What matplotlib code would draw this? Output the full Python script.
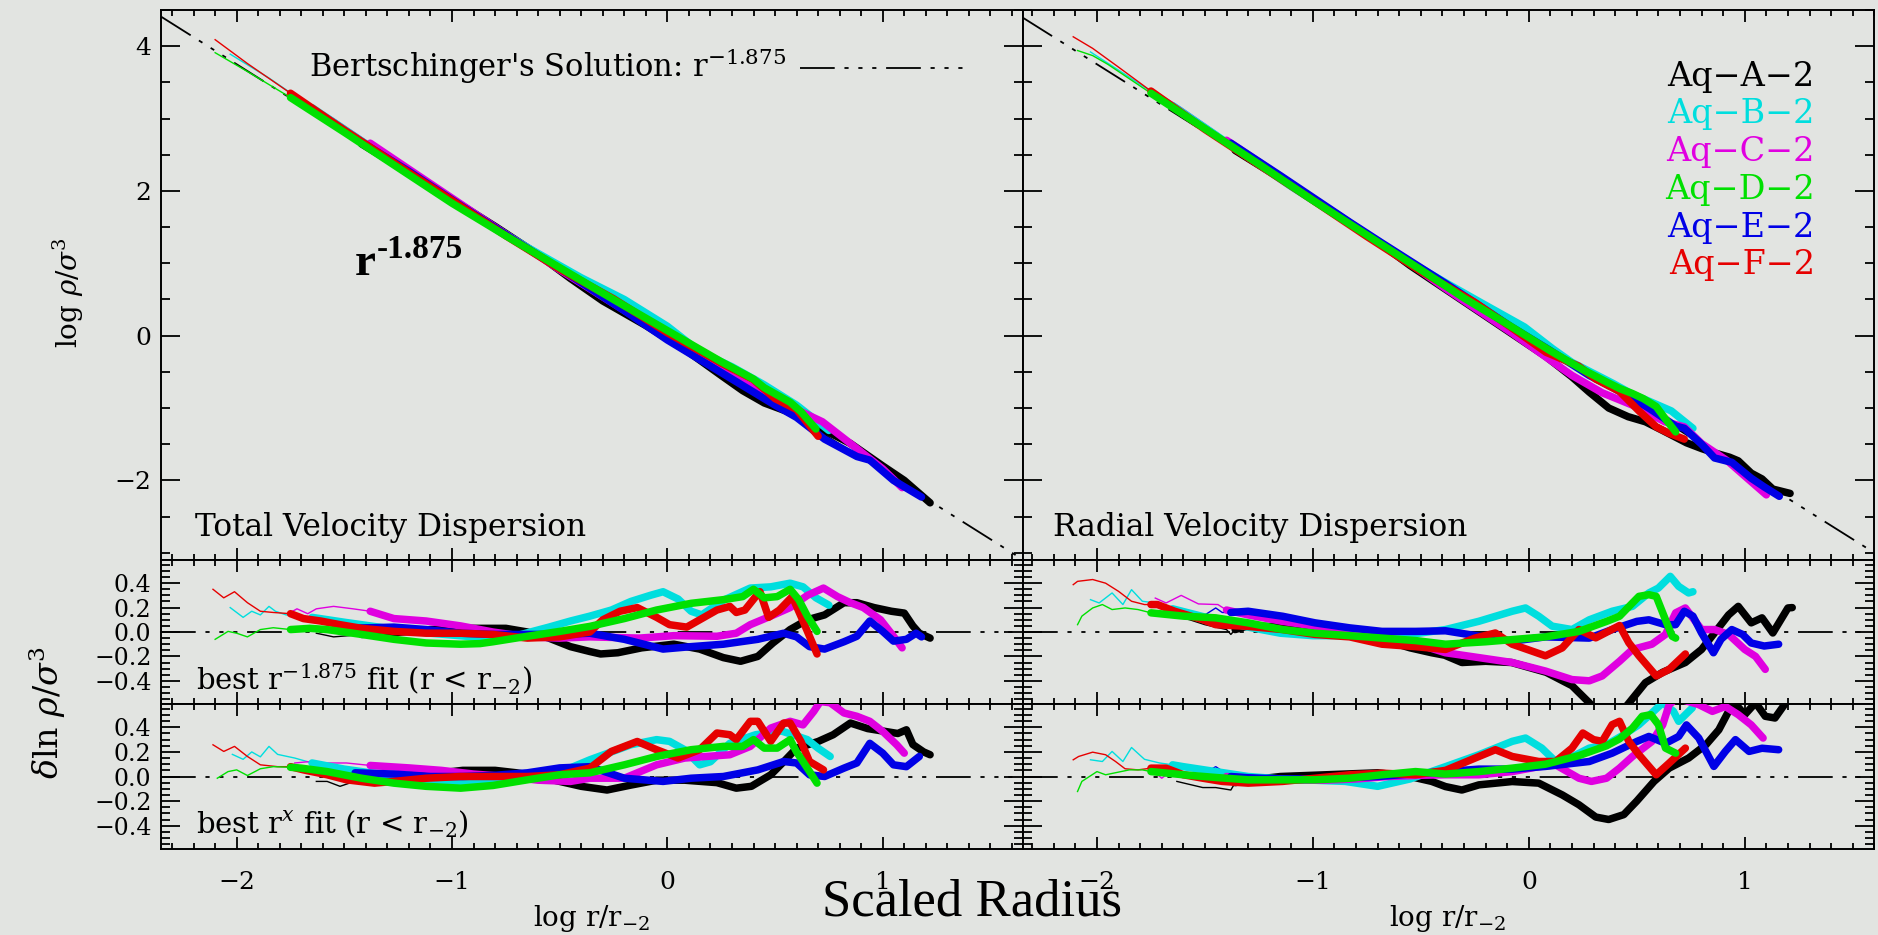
import numpy as np
import matplotlib
matplotlib.use('Agg')
import matplotlib.pyplot as plt
from matplotlib.ticker import MultipleLocator, FuncFormatter

plt.rcParams['font.family'] = ['DejaVu Serif']
plt.rcParams['mathtext.fontset'] = 'dejavuserif'
plt.rcParams['lines.scale_dashes'] = False

# halos, colours, radius where each curve turns from thin to thick
halos = ['Aq\u2212A\u22122', 'Aq\u2212B\u22122', 'Aq\u2212C\u22122',
         'Aq\u2212D\u22122', 'Aq\u2212E\u22122', 'Aq\u2212F\u22122']
colors = ['#000000', '#00dede', '#e000e0', '#00e000', '#0000e6', '#e60000']
conv_tot = [-1.42, -1.65, -1.38, -1.75, -1.45, -1.75]
conv_rad = [-1.36, -1.65, -1.40, -1.75, -1.38, -1.75]
bert_slope = -1.875
bert_norm = 0.0

# ---- top left: log rho/sigma^3, total dispersion
ltop_A_x = [-1.63, -1.5, -1.42, -1.1, -0.8, -0.6, -0.45, -0.3, -0.1, 0.1, 0.25, 0.35, 0.45, 0.55, 0.7, 0.85, 1.0, 1.1, 1.22]
ltop_A_y = [3.05, 2.80, 2.65, 2.07, 1.51, 1.12, 0.79, 0.48, 0.14, -0.23, -0.55, -0.76, -0.93, -1.04, -1.26, -1.49, -1.80, -2.00, -2.31]
ltop_B_x = [-2.03, -1.85, -1.65, -1.4, -1.15, -0.9, -0.65, -0.4, -0.2, 0.0, 0.15, 0.3, 0.45, 0.6, 0.75]
ltop_B_y = [3.89, 3.56, 3.15, 2.65, 2.16, 1.67, 1.22, 0.80, 0.50, 0.13, -0.22, -0.43, -0.68, -0.96, -1.31]
ltop_C_x = [-1.74, -1.55, -1.38, -1.1, -0.8, -0.5, -0.2, 0.1, 0.3, 0.5, 0.72, 0.85, 1.0, 1.09]
ltop_C_y = [3.34, 3.00, 2.66, 2.10, 1.50, 0.91, 0.35, -0.20, -0.57, -0.88, -1.19, -1.49, -1.84, -2.10]
ltop_D_x = [-2.1, -1.95, -1.75, -1.5, -1.25, -1.0, -0.75, -0.5, -0.25, 0.0, 0.25, 0.4, 0.45, 0.57, 0.62, 0.69]
ltop_D_y = [3.91, 3.65, 3.29, 2.81, 2.32, 1.83, 1.38, 0.94, 0.50, 0.07, -0.36, -0.60, -0.72, -0.92, -1.05, -1.29]
ltop_E_x = [-1.6, -1.45, -1.2, -0.95, -0.7, -0.45, -0.2, 0.0, 0.25, 0.5, 0.6, 0.73, 0.88, 0.94, 1.05, 1.18]
ltop_E_y = [3.04, 2.73, 2.27, 1.78, 1.30, 0.83, 0.345, -0.06, -0.51, -0.96, -1.13, -1.43, -1.67, -1.72, -2.00, -2.23]
ltop_F_x = [-2.10, -1.95, -1.75, -1.5, -1.25, -1.0, -0.75, -0.5, -0.25, 0.0, 0.25, 0.4, 0.5, 0.6, 0.7]
ltop_F_y = [4.09, 3.76, 3.35, 2.84, 2.35, 1.87, 1.38, 0.92, 0.51, 0.04, -0.38, -0.61, -0.87, -1.02, -1.39]

# ---- top right: radial dispersion
rtop_A_x = [-1.64, -1.5, -1.38, -1.36, -1.1, -0.9, -0.7, -0.55, -0.39, -0.2, 0.08, 0.2, 0.28, 0.37, 0.46, 0.54, 0.62, 0.73, 0.8, 0.86, 0.93, 0.97, 1.03, 1.08, 1.13, 1.21]
rtop_A_y = [3.13, 2.84, 2.58, 2.56, 2.08, 1.70, 1.30, 0.97, 0.65, 0.27, -0.29, -0.57, -0.78, -1.00, -1.12, -1.19, -1.31, -1.48, -1.56, -1.62, -1.68, -1.73, -1.90, -1.98, -2.12, -2.18]
rtop_B_x = [-2.03, -1.88, -1.65, -1.4, -1.1, -0.8, -0.55, -0.39, -0.23, -0.02, 0.11, 0.2, 0.39, 0.48, 0.56, 0.66, 0.76]
rtop_B_y = [3.92, 3.63, 3.18, 2.67, 2.06, 1.49, 1.02, 0.74, 0.47, 0.12, -0.18, -0.37, -0.66, -0.81, -0.91, -1.04, -1.28]
rtop_C_x = [-1.73, -1.61, -1.44, -1.4, -1.15, -0.85, -0.6, -0.39, -0.08, 0.2, 0.34, 0.48, 0.63, 0.72, 0.8, 0.92, 1.0, 1.1]
rtop_C_y = [3.37, 3.15, 2.80, 2.70, 2.20, 1.59, 1.10, 0.66, 0.04, -0.55, -0.79, -0.96, -1.19, -1.26, -1.49, -1.73, -1.94, -2.20]
rtop_D_x = [-2.09, -2.02, -1.95, -1.85, -1.75, -1.5, -1.25, -1.0, -0.75, -0.5, -0.3, -0.1, 0.1, 0.25, 0.36, 0.42, 0.48, 0.53, 0.59, 0.63, 0.68]
rtop_D_y = [3.94, 3.87, 3.75, 3.55, 3.35, 2.86, 2.37, 1.87, 1.39, 0.91, 0.52, 0.16, -0.21, -0.47, -0.64, -0.73, -0.80, -0.87, -0.98, -1.14, -1.33]
rtop_E_x = [-1.6, -1.45, -1.38, -1.15, -0.99, -0.83, -0.68, -0.39, -0.08, 0.08, 0.28, 0.39, 0.5, 0.56, 0.68, 0.72, 0.8, 0.86, 0.94, 1.03, 1.09, 1.16]
rtop_E_y = [3.07, 2.81, 2.66, 2.21, 1.89, 1.57, 1.28, 0.73, 0.12, -0.17, -0.55, -0.72, -0.90, -1.01, -1.25, -1.28, -1.50, -1.69, -1.75, -1.97, -2.09, -2.22]
rtop_F_x = [-2.11, -2.02, -1.9, -1.75, -1.5, -1.25, -1.0, -0.75, -0.5, -0.25, -0.08, 0.08, 0.23, 0.31, 0.42, 0.51, 0.59, 0.65, 0.72]
rtop_F_y = [4.13, 3.97, 3.71, 3.38, 2.85, 2.36, 1.87, 1.37, 0.89, 0.46, 0.11, -0.23, -0.42, -0.60, -0.77, -1.04, -1.26, -1.35, -1.43]

# ---- middle left: residual from best r^-1.875 fit, total
lfix_A_x = [-1.63, -1.55, -1.48, -1.42, -1.3, -1.1, -0.9, -0.75, -0.65, -0.55, -0.45, -0.36, -0.31, -0.23, -0.12, 0.03, 0.15, 0.26, 0.34, 0.42, 0.49, 0.57, 0.65, 0.73, 0.82, 0.88, 0.96, 1.04, 1.1, 1.14, 1.17, 1.22]
lfix_A_y = [-0.01, -0.04, -0.03, -0.02, -0.01, 0.02, 0.03, 0.03, 0.0, -0.05, -0.12, -0.16, -0.18, -0.17, -0.13, -0.10, -0.14, -0.21, -0.24, -0.20, -0.09, 0.02, 0.10, 0.14, 0.24, 0.24, 0.20, 0.17, 0.155, 0.05, -0.01, -0.05]
lfix_B_x = [-2.03, -1.97, -1.93, -1.89, -1.85, -1.82, -1.77, -1.70, -1.65, -1.5, -1.3, -1.1, -0.9, -0.7, -0.55, -0.45, -0.36, -0.26, -0.17, -0.08, -0.02, 0.05, 0.11, 0.16, 0.26, 0.385, 0.48, 0.57, 0.63, 0.69, 0.75]
lfix_B_y = [0.20, 0.12, 0.17, 0.14, 0.21, 0.17, 0.14, 0.13, 0.12, 0.08, 0.03, -0.01, -0.04, -0.03, 0.04, 0.09, 0.13, 0.18, 0.25, 0.30, 0.33, 0.27, 0.17, 0.14, 0.26, 0.36, 0.37, 0.40, 0.37, 0.28, 0.22]
lfix_C_x = [-1.74, -1.72, -1.67, -1.63, -1.55, -1.46, -1.38, -1.27, -1.12, -0.96, -0.81, -0.65, -0.5, -0.36, -0.13, 0.03, 0.23, 0.32, 0.385, 0.48, 0.57, 0.65, 0.725, 0.79, 0.85, 0.91, 0.99, 1.05, 1.09]
lfix_C_y = [0.17, 0.19, 0.15, 0.19, 0.21, 0.19, 0.17, 0.11, 0.09, 0.05, 0.0, -0.04, -0.05, -0.04, -0.05, -0.03, -0.035, -0.01, 0.06, 0.13, 0.20, 0.30, 0.36, 0.29, 0.24, 0.20, 0.10, -0.035, -0.13]
lfix_D_x = [-2.1, -2.04, -2.0, -1.95, -1.89, -1.83, -1.75, -1.66, -1.58, -1.42, -1.27, -1.12, -0.96, -0.87, -0.81, -0.65, -0.5, -0.36, -0.2, -0.05, 0.11, 0.26, 0.35, 0.40, 0.45, 0.51, 0.57, 0.61, 0.65, 0.695]
lfix_D_y = [-0.06, 0.005, -0.01, -0.04, 0.02, 0.035, 0.02, 0.03, 0.02, -0.02, -0.06, -0.09, -0.10, -0.095, -0.08, -0.035, 0.005, 0.046, 0.11, 0.18, 0.235, 0.265, 0.29, 0.35, 0.28, 0.29, 0.35, 0.265, 0.13, 0.005]
lfix_E_x = [-1.6, -1.56, -1.52, -1.45, -1.42, -1.27, -1.12, -0.96, -0.81, -0.65, -0.5, -0.36, -0.2, -0.02, 0.11, 0.26, 0.42, 0.54, 0.6, 0.66, 0.73, 0.82, 0.88, 0.94, 1.0, 1.05, 1.11, 1.155, 1.18]
lfix_E_y = [0.10, 0.11, 0.09, 0.03, 0.033, 0.04, 0.02, -0.01, -0.02, -0.02, -0.02, -0.01, -0.06, -0.14, -0.12, -0.10, -0.06, -0.01, -0.04, -0.12, -0.14, -0.08, -0.035, 0.09, 0.005, -0.075, -0.06, -0.01, -0.04]
lfix_F_x = [-2.11, -2.06, -2.01, -1.95, -1.89, -1.83, -1.75, -1.69, -1.61, -1.52, -1.42, -1.27, -1.12, -0.96, -0.81, -0.65, -0.5, -0.36, -0.3, -0.22, -0.14, -0.05, 0.01, 0.09, 0.15, 0.23, 0.29, 0.32, 0.36, 0.41, 0.43, 0.47, 0.52, 0.58, 0.62, 0.66, 0.695]
lfix_F_y = [0.35, 0.28, 0.33, 0.24, 0.17, 0.16, 0.15, 0.11, 0.09, 0.06, 0.03, 0.005, -0.01, -0.01, -0.02, -0.05, -0.04, 0.0, 0.10, 0.17, 0.20, 0.12, 0.06, 0.04, 0.10, 0.18, 0.21, 0.16, 0.18, 0.29, 0.33, 0.12, 0.18, 0.29, 0.13, -0.035, -0.18]

# ---- bottom left: residual from best r^x fit, total
lfree_A_x = [-1.63, -1.58, -1.52, -1.47, -1.42, -1.3, -1.1, -0.95, -0.8, -0.7, -0.6, -0.5, -0.4, -0.28, -0.17, -0.05, 0.08, 0.23, 0.32, 0.39, 0.48, 0.54, 0.6, 0.7, 0.77, 0.85, 0.93, 1.0, 1.07, 1.11, 1.14, 1.19, 1.22]
lfree_A_y = [-0.04, -0.04, -0.08, -0.05, -0.014, 0.0, 0.02, 0.05, 0.05, 0.03, 0.0, -0.04, -0.08, -0.11, -0.07, -0.03, -0.03, -0.05, -0.095, -0.08, 0.014, 0.12, 0.23, 0.285, 0.34, 0.435, 0.39, 0.37, 0.35, 0.38, 0.26, 0.20, 0.177]
lfree_B_x = [-2.02, -1.97, -1.93, -1.89, -1.85, -1.81, -1.73, -1.67, -1.65, -1.5, -1.3, -1.1, -0.9, -0.7, -0.55, -0.45, -0.36, -0.26, -0.17, -0.05, 0.01, 0.08, 0.15, 0.2, 0.29, 0.41, 0.53, 0.6, 0.65, 0.7, 0.756]
lfree_B_y = [0.18, 0.14, 0.20, 0.16, 0.245, 0.18, 0.15, 0.12, 0.11, 0.06, 0.01, -0.03, -0.05, -0.03, 0.03, 0.07, 0.136, 0.20, 0.258, 0.30, 0.286, 0.218, 0.095, 0.12, 0.27, 0.34, 0.37, 0.33, 0.30, 0.23, 0.163]
lfree_C_x = [-1.73, -1.67, -1.58, -1.49, -1.38, -1.2, -1.05, -0.9, -0.75, -0.6, -0.45, -0.36, -0.2, -0.05, 0.08, 0.18, 0.29, 0.385, 0.48, 0.57, 0.63, 0.68, 0.71, 0.756, 0.82, 0.88, 0.94, 1.0, 1.065, 1.1]
lfree_C_y = [0.11, 0.12, 0.11, 0.11, 0.09, 0.07, 0.05, 0.02, 0.0, -0.03, -0.04, -0.014, -0.014, 0.095, 0.15, 0.163, 0.177, 0.245, 0.394, 0.449, 0.42, 0.53, 0.61, 0.60, 0.517, 0.49, 0.449, 0.367, 0.258, 0.19]
lfree_D_x = [-2.09, -2.04, -2.0, -1.95, -1.89, -1.83, -1.75, -1.7, -1.58, -1.42, -1.27, -1.12, -0.96, -0.81, -0.65, -0.5, -0.36, -0.2, -0.05, 0.11, 0.26, 0.35, 0.40, 0.45, 0.51, 0.57, 0.6, 0.65, 0.695]
lfree_D_y = [-0.014, 0.04, 0.054, 0.008, 0.063, 0.08, 0.075, 0.068, 0.04, -0.014, -0.054, -0.08, -0.095, -0.073, -0.027, 0.014, 0.03, 0.095, 0.163, 0.218, 0.245, 0.245, 0.30, 0.231, 0.231, 0.30, 0.20, 0.068, -0.054]
lfree_E_x = [-1.6, -1.55, -1.45, -1.27, -1.1, -0.95, -0.8, -0.65, -0.5, -0.36, -0.2, -0.02, 0.11, 0.26, 0.42, 0.54, 0.6, 0.66, 0.73, 0.82, 0.88, 0.94, 1.0, 1.05, 1.11, 1.17]
lfree_E_y = [0.06, 0.07, 0.03, 0.02, 0.0, 0.0, 0.01, 0.03, 0.07, 0.08, -0.014, -0.04, -0.014, 0.0, 0.054, 0.122, 0.11, 0.014, 0.0, 0.068, 0.11, 0.27, 0.19, 0.095, 0.08, 0.163]
lfree_F_x = [-2.11, -2.06, -2.01, -1.95, -1.89, -1.81, -1.75, -1.69, -1.58, -1.49, -1.36, -1.27, -1.12, -0.96, -0.81, -0.65, -0.5, -0.36, -0.26, -0.14, -0.05, 0.05, 0.15, 0.23, 0.29, 0.32, 0.385, 0.42, 0.48, 0.54, 0.57, 0.62, 0.66, 0.725]
lfree_F_y = [0.258, 0.204, 0.245, 0.163, 0.095, 0.08, 0.08, 0.054, 0.014, -0.027, -0.054, -0.04, -0.014, 0.0, 0.0, 0.0, 0.014, 0.068, 0.204, 0.285, 0.218, 0.15, 0.218, 0.354, 0.34, 0.30, 0.449, 0.449, 0.286, 0.435, 0.435, 0.286, 0.122, 0.054]

# ---- middle right: residual from best r^-1.875 fit, radial
rfix_A_x = [-1.64, -1.57, -1.5, -1.4, -1.38, -1.36, -1.3, -1.1, -0.9, -0.7, -0.55, -0.45, -0.39, -0.31, -0.2, -0.08, 0.08, 0.2, 0.28, 0.33, 0.4, 0.46, 0.54, 0.62, 0.725, 0.8, 0.86, 0.925, 0.97, 1.03, 1.08, 1.13, 1.2, 1.22]
rfix_A_y = [0.13, 0.10, 0.06, 0.02, -0.02, 0.02, 0.05, 0.04, 0.0, -0.05, -0.13, -0.17, -0.19, -0.25, -0.24, -0.25, -0.33, -0.44, -0.58, -0.68, -0.72, -0.59, -0.415, -0.33, -0.25, -0.143, -0.008, 0.14, 0.21, 0.075, 0.116, -0.008, 0.197, 0.2]
rfix_B_x = [-2.03, -1.99, -1.93, -1.88, -1.84, -1.79, -1.73, -1.67, -1.65, -1.45, -1.3, -1.15, -1.0, -0.85, -0.7, -0.55, -0.386, -0.231, -0.077, -0.015, 0.046, 0.108, 0.2, 0.28, 0.386, 0.48, 0.556, 0.6, 0.655, 0.694, 0.74, 0.76]
rfix_B_y = [0.265, 0.238, 0.32, 0.225, 0.347, 0.252, 0.238, 0.197, 0.19, 0.10, 0.04, -0.01, -0.03, -0.03, -0.03, -0.02, 0.02, 0.088, 0.17, 0.197, 0.129, 0.048, 0.02, 0.10, 0.17, 0.21, 0.32, 0.36, 0.456, 0.374, 0.32, 0.33]
rfix_C_x = [-1.73, -1.68, -1.61, -1.53, -1.44, -1.4, -1.3, -1.15, -1.0, -0.85, -0.7, -0.55, -0.386, -0.231, -0.077, 0.077, 0.2, 0.28, 0.34, 0.42, 0.48, 0.57, 0.633, 0.68, 0.725, 0.8, 0.86, 0.925, 1.0, 1.05, 1.095]
rfix_C_y = [0.278, 0.238, 0.30, 0.23, 0.225, 0.18, 0.14, 0.09, 0.05, 0.0, -0.04, -0.08, -0.17, -0.21, -0.25, -0.32, -0.39, -0.40, -0.36, -0.24, -0.143, -0.10, -0.02, 0.157, 0.197, 0.02, 0.02, -0.02, -0.143, -0.2, -0.306]
rfix_D_x = [-2.09, -2.07, -2.02, -1.975, -1.93, -1.87, -1.81, -1.75, -1.6, -1.45, -1.3, -1.14, -0.99, -0.83, -0.68, -0.525, -0.386, -0.2, 0.077, 0.232, 0.36, 0.42, 0.48, 0.51, 0.556, 0.59, 0.633, 0.664, 0.68]
rfix_D_y = [0.06, 0.13, 0.197, 0.225, 0.184, 0.197, 0.184, 0.157, 0.13, 0.116, 0.075, 0.02, -0.01, -0.03, -0.05, -0.07, -0.10, -0.08, -0.04, 0.005, 0.087, 0.129, 0.238, 0.292, 0.306, 0.292, 0.10, -0.035, -0.05]
rfix_E_x = [-1.6, -1.5, -1.45, -1.42, -1.38, -1.3, -1.14, -0.99, -0.83, -0.68, -0.525, -0.386, -0.231, -0.077, 0.077, 0.28, 0.386, 0.5, 0.556, 0.633, 0.68, 0.72, 0.76, 0.8, 0.855, 0.89, 0.94, 0.99, 1.03, 1.09, 1.157]
rfix_E_y = [0.15, 0.14, 0.197, 0.16, 0.16, 0.17, 0.129, 0.075, 0.034, 0.005, 0.005, 0.01, -0.034, -0.075, -0.04, -0.05, 0.02, 0.087, 0.10, 0.06, 0.06, 0.17, 0.13, -0.008, -0.17, -0.06, 0.02, -0.02, -0.09, -0.115, -0.10]
rfix_F_x = [-2.11, -2.09, -2.02, -1.96, -1.90, -1.84, -1.78, -1.75, -1.72, -1.64, -1.51, -1.45, -1.3, -1.14, -0.99, -0.83, -0.68, -0.525, -0.386, -0.25, -0.155, -0.077, 0.077, 0.155, 0.232, 0.31, 0.42, 0.463, 0.51, 0.59, 0.65, 0.725]
rfix_F_y = [0.388, 0.415, 0.43, 0.40, 0.333, 0.252, 0.225, 0.225, 0.225, 0.17, 0.10, 0.06, 0.046, 0.02, -0.02, -0.04, -0.10, -0.12, -0.143, -0.05, -0.008, -0.10, -0.195, -0.13, 0.02, -0.048, 0.053, -0.088, -0.195, -0.36, -0.306, -0.18]

# ---- bottom right: residual from best r^x fit, radial
rfree_A_x = [-1.63, -1.51, -1.45, -1.38, -1.36, -1.3, -1.15, -1.0, -0.85, -0.7, -0.55, -0.45, -0.386, -0.31, -0.231, -0.077, 0.046, 0.155, 0.232, 0.31, 0.37, 0.44, 0.5, 0.58, 0.65, 0.74, 0.82, 0.88, 0.925, 0.96, 1.0, 1.05, 1.095, 1.14, 1.19, 1.22]
rfree_A_y = [-0.04, -0.09, -0.09, -0.11, -0.05, -0.03, 0.0, 0.01, 0.02, 0.03, 0.0, -0.04, -0.082, -0.11, -0.068, -0.041, -0.054, -0.15, -0.23, -0.33, -0.35, -0.31, -0.20, -0.04, 0.068, 0.15, 0.258, 0.38, 0.53, 0.585, 0.503, 0.60, 0.49, 0.476, 0.60, 0.66]
rfree_B_x = [-2.03, -1.975, -1.93, -1.88, -1.84, -1.78, -1.71, -1.65, -1.6, -1.45, -1.3, -1.15, -1.0, -0.85, -0.7, -0.55, -0.386, -0.231, -0.077, -0.015, 0.06, 0.124, 0.19, 0.28, 0.36, 0.44, 0.51, 0.57, 0.62, 0.67, 0.694, 0.725, 0.757]
rfree_B_y = [0.136, 0.122, 0.204, 0.122, 0.236, 0.14, 0.11, 0.095, 0.08, 0.04, 0.0, -0.02, -0.03, -0.04, -0.08, -0.02, 0.08, 0.177, 0.286, 0.313, 0.231, 0.122, 0.15, 0.231, 0.258, 0.34, 0.422, 0.517, 0.60, 0.53, 0.449, 0.503, 0.558]
rfree_C_x = [-1.745, -1.7, -1.66, -1.55, -1.45, -1.4, -1.25, -1.1, -0.95, -0.8, -0.65, -0.5, -0.386, -0.231, -0.077, 0.046, 0.124, 0.232, 0.29, 0.36, 0.42, 0.48, 0.57, 0.62, 0.65, 0.68, 0.72, 0.787, 0.85, 0.91, 0.97, 1.03, 1.085]
rfree_C_y = [0.054, -0.014, 0.04, 0.03, 0.0, 0.0, -0.02, -0.03, -0.03, -0.02, 0.0, 0.01, 0.014, 0.014, 0.04, 0.08, 0.095, -0.014, -0.04, -0.014, 0.068, 0.163, 0.285, 0.42, 0.585, 0.63, 0.62, 0.585, 0.53, 0.57, 0.503, 0.42, 0.313]
rfree_D_x = [-2.09, -2.07, -2.0, -1.96, -1.85, -1.79, -1.75, -1.72, -1.6, -1.45, -1.3, -1.14, -0.99, -0.83, -0.68, -0.525, -0.386, -0.231, -0.077, 0.077, 0.232, 0.36, 0.42, 0.48, 0.525, 0.565, 0.6, 0.633, 0.68]
rfree_D_y = [-0.122, -0.04, 0.04, 0.014, 0.054, 0.054, 0.04, 0.035, 0.014, -0.008, -0.027, -0.027, -0.027, -0.014, 0.014, 0.04, 0.02, 0.04, 0.068, 0.10, 0.17, 0.25, 0.306, 0.394, 0.49, 0.503, 0.422, 0.231, 0.19]
rfree_E_x = [-1.5, -1.45, -1.38, -1.3, -1.15, -1.0, -0.85, -0.7, -0.55, -0.386, -0.231, -0.077, 0.077, 0.28, 0.386, 0.5, 0.556, 0.633, 0.694, 0.73, 0.787, 0.857, 0.91, 0.957, 1.02, 1.08, 1.157]
rfree_E_y = [0.03, 0.08, 0.0, -0.01, -0.02, -0.02, -0.01, 0.0, 0.02, 0.04, 0.06, 0.06, 0.082, 0.122, 0.19, 0.285, 0.326, 0.27, 0.326, 0.42, 0.313, 0.082, 0.204, 0.30, 0.204, 0.23, 0.218]
rfree_F_x = [-2.11, -2.085, -2.02, -1.96, -1.914, -1.87, -1.81, -1.75, -1.68, -1.6, -1.51, -1.42, -1.3, -1.14, -0.99, -0.83, -0.68, -0.525, -0.386, -0.231, -0.155, -0.077, 0.046, 0.124, 0.2, 0.25, 0.3, 0.34, 0.386, 0.42, 0.463, 0.51, 0.59, 0.65, 0.725]
rfree_F_y = [0.136, 0.163, 0.198, 0.177, 0.122, 0.063, 0.054, 0.068, 0.068, 0.014, -0.014, -0.04, -0.054, -0.04, -0.014, 0.014, 0.027, 0.014, 0.05, 0.163, 0.218, 0.163, 0.122, 0.122, 0.231, 0.354, 0.30, 0.286, 0.422, 0.449, 0.286, 0.177, 0.014, 0.109, 0.231]

bg = '#e2e4e1'
DASH = (0, (25, 7, 3, 7, 3, 7, 3, 7))
THIN, THICK = 1.0, 5.4
order = [0, 1, 2, 4, 5, 3]   # green ends up on top

W, H = 1878, 935
fig = plt.figure(figsize=(W / 100, H / 100), dpi=100, facecolor=bg)


def rect(x0, y0, x1, y1):
    return [x0 / W, 1 - y1 / H, (x1 - x0) / W, (y1 - y0) / H]


XL, XM, XR = 161.3, 1022.7, 1874.3
ax_lt = fig.add_axes(rect(XL, 10, XM, 560))
ax_lm = fig.add_axes(rect(XL, 560, XM, 704))
ax_lb = fig.add_axes(rect(XL, 704, XM, 849))
ax_rt = fig.add_axes(rect(XM, 10, XR, 560))
ax_rm = fig.add_axes(rect(XM, 560, XR, 704))
ax_rb = fig.add_axes(rect(XM, 704, XR, 849))


def fmt_int(v, pos):
    s = f'{v:.0f}'
    return ('0' if s == '-0' else s).replace('-', '\u2212')


def fmt_dec(v, pos):
    s = f'{v:.1f}'
    return ('0.0' if s == '-0.0' else s).replace('-', '\u2212')


def style(ax, top, left_labels, bottom_labels, xlim):
    ax.set_facecolor(bg)
    ax.set_xlim(*xlim)
    for sp in ax.spines.values():
        sp.set_linewidth(1.4)
    ax.xaxis.set_major_locator(MultipleLocator(1))
    ax.xaxis.set_minor_locator(MultipleLocator(0.1))
    ax.xaxis.set_major_formatter(FuncFormatter(fmt_int))
    if top:
        ax.set_ylim(-3.1, 4.5)
        ax.yaxis.set_major_locator(MultipleLocator(2))
        ax.yaxis.set_minor_locator(MultipleLocator(0.5))
        ax.yaxis.set_major_formatter(FuncFormatter(fmt_int))
        ylab = 18
    else:
        ax.set_ylim(-0.59, 0.59)
        ax.yaxis.set_major_locator(MultipleLocator(0.2))
        ax.yaxis.set_minor_locator(MultipleLocator(0.05))
        ax.yaxis.set_major_formatter(FuncFormatter(fmt_dec))
        ylab = 17
    ax.tick_params(which='both', direction='in', top=True, right=True,
                   width=1.3, color='black')
    ax.tick_params(axis='y', which='major', length=13.5, labelsize=ylab, pad=7)
    ax.tick_params(axis='y', which='minor', length=6.7)
    ax.tick_params(axis='x', which='major', length=8.4, labelsize=18, pad=16)
    ax.tick_params(axis='x', which='minor', length=4.2)
    ax.tick_params(labelleft=left_labels, labelbottom=bottom_labels)


def draw(ax, xs, ys, convs):
    for i in order:
        x = np.asarray(xs[i])
        y = np.asarray(ys[i])
        k = int(np.searchsorted(x, convs[i]))
        ax.plot(x[:k + 1], y[:k + 1], color=colors[i], lw=THIN, zorder=3)
        ax.plot(x[k:], y[k:], color=colors[i], lw=THICK, zorder=4,
                solid_joinstyle='round', solid_capstyle='round')


lt_x = [ltop_A_x, ltop_B_x, ltop_C_x, ltop_D_x, ltop_E_x, ltop_F_x]
lt_y = [ltop_A_y, ltop_B_y, ltop_C_y, ltop_D_y, ltop_E_y, ltop_F_y]
rt_x = [rtop_A_x, rtop_B_x, rtop_C_x, rtop_D_x, rtop_E_x, rtop_F_x]
rt_y = [rtop_A_y, rtop_B_y, rtop_C_y, rtop_D_y, rtop_E_y, rtop_F_y]
lm_x = [lfix_A_x, lfix_B_x, lfix_C_x, lfix_D_x, lfix_E_x, lfix_F_x]
lm_y = [lfix_A_y, lfix_B_y, lfix_C_y, lfix_D_y, lfix_E_y, lfix_F_y]
lb_x = [lfree_A_x, lfree_B_x, lfree_C_x, lfree_D_x, lfree_E_x, lfree_F_x]
lb_y = [lfree_A_y, lfree_B_y, lfree_C_y, lfree_D_y, lfree_E_y, lfree_F_y]
rm_x = [rfix_A_x, rfix_B_x, rfix_C_x, rfix_D_x, rfix_E_x, rfix_F_x]
rm_y = [rfix_A_y, rfix_B_y, rfix_C_y, rfix_D_y, rfix_E_y, rfix_F_y]
rb_x = [rfree_A_x, rfree_B_x, rfree_C_x, rfree_D_x, rfree_E_x, rfree_F_x]
rb_y = [rfree_A_y, rfree_B_y, rfree_C_y, rfree_D_y, rfree_E_y, rfree_F_y]

xl_left = (-2.35, 1.65)
xl_right = (-2.344, 1.60)

style(ax_lt, True, True, False, xl_left)
style(ax_rt, True, False, False, xl_right)
style(ax_lm, False, True, False, xl_left)
style(ax_rm, False, False, False, xl_right)
style(ax_lb, False, True, True, xl_left)
style(ax_rb, False, False, True, xl_right)

for ax in (ax_lt, ax_rt):
    ax.axline((0, bert_norm), slope=bert_slope, color='black', lw=1.3, ls=DASH, zorder=2)
for ax in (ax_lm, ax_rm, ax_lb, ax_rb):
    ax.axhline(0, color='black', lw=1.3, ls=DASH, zorder=2)

draw(ax_lt, lt_x, lt_y, conv_tot)
draw(ax_rt, rt_x, rt_y, conv_rad)
draw(ax_lm, lm_x, lm_y, conv_tot)
draw(ax_lb, lb_x, lb_y, conv_tot)
draw(ax_rm, rm_x, rm_y, conv_rad)
draw(ax_rb, rb_x, rb_y, conv_rad)

# Bertschinger key
ax_lt.text(0.1715, 0.8776, "Bertschinger's Solution: r$^{\\mathregular{-1.875}}$",
           transform=ax_lt.transAxes, fontsize=22, va='baseline')
ax_lt.plot([0.742, 0.931], [0.8945, 0.8945], transform=ax_lt.transAxes,
           color='black', lw=1.3, ls=DASH)

# halo names
name_y = [0.8618, 0.794, 0.7255, 0.6558, 0.5878, 0.5195]
for i in range(6):
    ax_rt.text(0.930, name_y[i], halos[i], color=colors[i], transform=ax_rt.transAxes,
               fontsize=24, ha='right', va='baseline')

ax_lt.text(0.039, 0.0442, 'Total Velocity Dispersion', transform=ax_lt.transAxes,
           fontsize=22.5, va='baseline')
ax_rt.text(0.0356, 0.0442, 'Radial Velocity Dispersion', transform=ax_rt.transAxes,
           fontsize=22.5, va='baseline')
ax_lm.text(0.040, 0.097, 'best r$^{-1.875}$ fit (r < r$_{-2}$)', transform=ax_lm.transAxes,
           fontsize=21, va='baseline')
ax_lb.text(0.040, 0.11, 'best r$^{x}$ fit (r < r$_{-2}$)', transform=ax_lb.transAxes,
           fontsize=21, va='baseline')

# axis titles
fig.text(68 / W, 1 - 293 / H, r'log $\rho/\sigma^3$', rotation=90, fontsize=20,
         ha='center', va='center')
fig.text(47 / W, 1 - 712 / H, r'$\delta$ln $\rho/\sigma^3$', rotation=90, fontsize=24,
         ha='center', va='center')
fig.text(592 / W, 1 - 918 / H, 'log r/r$_{-2}$', fontsize=20, ha='center', va='center')
fig.text(1448 / W, 1 - 918 / H, 'log r/r$_{-2}$', fontsize=20, ha='center', va='center')

# slide annotations
fig.text(355 / W, 1 - 275 / H, 'r', fontsize=34, family='Liberation Serif',
         weight='bold', va='baseline')
fig.text(377 / W, 1 - 258 / H, '-1.875', fontsize=24, family='Liberation Serif',
         weight='bold', va='baseline')
fig.text(822 / W, 1 - 915 / H, 'Scaled Radius', fontsize=38, family='Liberation Serif',
         va='baseline')

fig.savefig('out.png', dpi=100, facecolor=bg)
